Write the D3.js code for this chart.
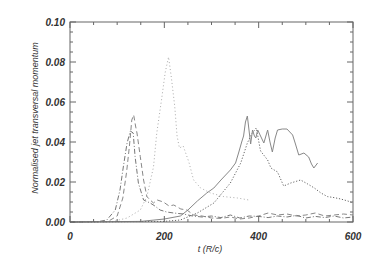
<!DOCTYPE html>
<html>
<head>
<meta charset="utf-8">
<script src="https://cdn.jsdelivr.net/npm/d3@7"></script>
<style>
  body { margin: 0; background: #fff; }
  svg { display: block; }
  .tick-label { font-family: "Liberation Sans", Arial, sans-serif; font-style: italic; font-weight: bold; font-size: 10px; fill: #333; }
  .title { font-family: "Liberation Sans", Arial, sans-serif; font-style: italic; font-size: 9px; fill: #333; }
</style>
</head>
<body>
<div id="chart"></div>
<script>
// data: time (R/c) and normalised transversal momentum
var tSolid = [0, 150, 200, 234, 250, 270, 290, 305, 320, 340, 351, 358, 364, 368, 372, 376, 380, 383, 387, 391, 394, 398, 404, 411, 419, 424, 429, 435, 440, 450, 460, 466, 472, 478, 485, 496, 506, 512, 517, 525];
var vSolid = [0, 0.0003, 0.0015, 0.003, 0.006, 0.0105, 0.0145, 0.017, 0.021, 0.026, 0.0295, 0.035, 0.04, 0.043, 0.05, 0.053, 0.045, 0.039, 0.046, 0.043, 0.042, 0.046, 0.043, 0.0395, 0.046, 0.04, 0.035, 0.042, 0.046, 0.0465, 0.0465, 0.045, 0.0435, 0.039, 0.0335, 0.0345, 0.0325, 0.029, 0.027, 0.0295];

var tDotted = [0, 200, 234, 270, 305, 340, 362, 376, 385, 395, 404, 419, 426, 440, 453, 468, 489, 504, 518, 532, 546, 560, 574, 589, 600];
var vDotted = [0, 0.0003, 0.001, 0.0045, 0.0095, 0.0195, 0.0295, 0.0395, 0.044, 0.047, 0.0355, 0.031, 0.027, 0.025, 0.018, 0.0195, 0.021, 0.019, 0.017, 0.0145, 0.0127, 0.0122, 0.0115, 0.0105, 0.0095];

var tLight = [0, 90, 121, 149, 163, 177, 184, 194, 202, 209, 215, 222, 227, 232, 240, 246, 252, 262, 277, 298, 326, 355, 379];
var vLight = [0, 0.0002, 0.002, 0.006, 0.0127, 0.0275, 0.0445, 0.061, 0.075, 0.0825, 0.072, 0.058, 0.043, 0.037, 0.038, 0.034, 0.03, 0.021, 0.017, 0.0145, 0.0127, 0.012, 0.011];

var tDashed = [0, 80, 100, 112, 120, 126, 131, 135, 139, 142, 149, 156, 163, 170, 177, 185, 198, 210, 220, 235, 248, 262, 280, 300, 320, 340, 360, 380, 400, 420, 440, 460, 480, 500, 520, 540, 560, 580, 600];
var vDashed = [0, 0.0002, 0.003, 0.012, 0.025, 0.038, 0.051, 0.0535, 0.048, 0.0445, 0.0327, 0.021, 0.0127, 0.011, 0.0095, 0.011, 0.01, 0.008, 0.0085, 0.0065, 0.006, 0.0035, 0.003, 0.002, 0.0018, 0.0025, 0.0015, 0.002, 0.003, 0.0045, 0.0035, 0.004, 0.003, 0.0035, 0.0045, 0.003, 0.0035, 0.004, 0.0035];

var tDashDot = [0, 60, 78, 96, 106, 113, 121, 128, 134, 138, 145, 156, 170, 180, 191, 205, 220, 240, 260, 280, 300, 320, 340, 360, 380, 400, 420, 440, 460, 480, 500, 520, 540, 560, 580, 600];
var vDashDot = [0, 0.0002, 0.001, 0.006, 0.016, 0.0275, 0.0395, 0.0455, 0.0445, 0.0327, 0.0195, 0.011, 0.0095, 0.008, 0.006, 0.005, 0.0045, 0.004, 0.003, 0.0025, 0.003, 0.0022, 0.0035, 0.002, 0.003, 0.0028, 0.0022, 0.003, 0.0025, 0.0033, 0.002, 0.0028, 0.0022, 0.003, 0.002, 0.0025];

var xLabels = [0, 200, 400, 600];
var yLabels = [0, 0.02, 0.04, 0.06, 0.08, 0.10];

var width = 374, height = 267;
var margin = {top: 22, right: 21, bottom: 45, left: 70};

var svg = d3.select("#chart").append("svg")
  .attr("width", width)
  .attr("height", height);

var x = d3.scaleLinear().domain([0, 600]).range([margin.left, width - margin.right]);
var y = d3.scaleLinear().domain([0, 0.10]).range([height - margin.bottom, margin.top]);

var series = [
  {t: tLight, v: vLight, color: "#aaa", dash: "1,2.5"},
  {t: tDashed, v: vDashed, color: "#888", dash: "5,3"},
  {t: tDashDot, v: vDashDot, color: "#777", dash: "5,2,1,2"},
  {t: tDotted, v: vDotted, color: "#666", dash: "1.2,1.8"},
  {t: tSolid, v: vSolid, color: "#888", dash: null}
];

var line = d3.line()
  .x(function (d) { return x(d[0]); })
  .y(function (d) { return y(d[1]); });

series.forEach(function (s) {
  svg.append("path")
    .datum(d3.zip(s.t, s.v))
    .attr("d", line)
    .attr("fill", "none")
    .attr("stroke", s.color)
    .attr("stroke-width", 1)
    .attr("stroke-dasharray", s.dash);
});

// frame with inward ticks on all sides
var x0 = x.range()[0], x1 = x.range()[1], y0 = y.range()[0], y1 = y.range()[1];
svg.append("rect")
  .attr("x", x0).attr("y", y1)
  .attr("width", x1 - x0).attr("height", y0 - y1)
  .attr("fill", "none").attr("stroke", "#666").attr("stroke-width", 1);

var xTicks = d3.range(0, 601, 50);
xTicks.forEach(function (t) {
  var len = t % 200 === 0 ? 6 : 3;
  svg.append("line").attr("x1", x(t)).attr("x2", x(t)).attr("y1", y0).attr("y2", y0 - len).attr("stroke", "#666");
  svg.append("line").attr("x1", x(t)).attr("x2", x(t)).attr("y1", y1).attr("y2", y1 + len).attr("stroke", "#666");
});
var yTicks = d3.range(0, 21).map(function (i) { return i * 0.005; });
yTicks.forEach(function (v, i) {
  var len = i % 4 === 0 ? 6 : 3;
  svg.append("line").attr("x1", x0).attr("x2", x0 + len).attr("y1", y(v)).attr("y2", y(v)).attr("stroke", "#666");
  svg.append("line").attr("x1", x1).attr("x2", x1 - len).attr("y1", y(v)).attr("y2", y(v)).attr("stroke", "#666");
});

svg.selectAll(".xl").data(xLabels).enter().append("text")
  .attr("class", "tick-label")
  .attr("x", function (d) { return x(d); })
  .attr("y", y0 + 18)
  .attr("text-anchor", "middle")
  .text(function (d) { return d; });

svg.selectAll(".yl").data(yLabels).enter().append("text")
  .attr("class", "tick-label")
  .attr("x", x0 - 5)
  .attr("y", function (d) { return y(d) + 3.5; })
  .attr("text-anchor", "end")
  .text(function (d) { return d3.format(".2f")(d); });

svg.append("text")
  .attr("class", "title")
  .attr("x", 210)
  .attr("y", 252)
  .attr("text-anchor", "middle")
  .text("t (R/c)");

svg.append("text")
  .attr("class", "title")
  .attr("transform", "translate(38,118) rotate(-90)")
  .attr("text-anchor", "middle")
  .text("Normalised jet transversal momentum");
</script>
</body>
</html>
